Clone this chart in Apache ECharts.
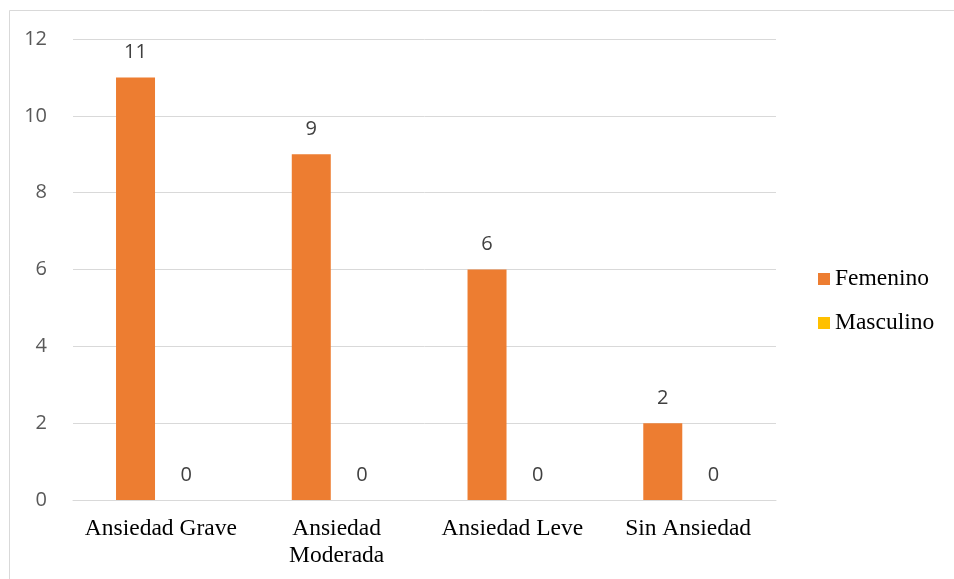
<!DOCTYPE html>
<html>
<head>
<meta charset="utf-8">
<script src="https://cdn.jsdelivr.net/npm/echarts@6/dist/echarts.min.js"></script>
<style>
  html, body { margin: 0; padding: 0; background: #fff; }
  #chart { width: 954px; height: 579px; }
</style>
</head>
<body>
<div id="chart"></div>
<script>
// Niveles de ansiedad por sexo
const categories = ['Ansiedad Grave', 'Ansiedad\nModerada', 'Ansiedad Leve', 'Sin Ansiedad'];
const femenino = [11, 9, 6, 2];
const masculino = [0, 0, 0, 0];
const yTicks = { min: 0, max: 12, interval: 2 };

const chart = echarts.init(document.getElementById('chart'));

const labelStyle = {
  show: true,
  position: 'top',
  distance: 15,
  color: '#404040',
  fontFamily: 'Open Sans, Liberation Sans, sans-serif',
  fontSize: 20
};

chart.setOption({
  animation: false,
  backgroundColor: '#fff',
  graphic: [{
    type: 'rect',
    shape: { x: 9.5, y: 10.5, width: 960, height: 600 },
    style: { fill: 'none', stroke: '#D9D9D9', lineWidth: 1 },
    silent: true
  }],
  grid: { left: 73, right: 178, top: 39, bottom: 79 },
  legend: {
    orient: 'vertical',
    left: 813,
    top: 262,
    itemWidth: 12,
    itemHeight: 12,
    itemGap: 20,
    icon: 'rect',
    textStyle: {
      fontFamily: 'Liberation Serif, Times New Roman, serif',
      fontSize: 23.5,
      color: '#000'
    },
    data: ['Femenino', 'Masculino']
  },
  xAxis: {
    type: 'category',
    data: categories,
    axisLine: { lineStyle: { color: '#D9D9D9', width: 1 } },
    axisTick: { show: false },
    axisLabel: {
      interval: 0,
      margin: 15,
      lineHeight: 27,
      fontFamily: 'Liberation Serif, Times New Roman, serif',
      fontSize: 23.5,
      color: '#000'
    }
  },
  yAxis: {
    type: 'value',
    min: yTicks.min,
    max: yTicks.max,
    interval: yTicks.interval,
    axisLine: { show: false },
    axisTick: { show: false },
    splitLine: { lineStyle: { color: '#D9D9D9', width: 1 } },
    axisLabel: {
      margin: 26,
      fontFamily: 'Open Sans, Liberation Sans, sans-serif',
      fontSize: 20,
      color: '#595959'
    }
  },
  series: [
    {
      name: 'Femenino',
      type: 'bar',
      data: femenino,
      barWidth: 39,
      barGap: '30%',
      itemStyle: { color: '#ED7D31' },
      label: labelStyle
    },
    {
      name: 'Masculino',
      type: 'bar',
      data: masculino,
      barWidth: 39,
      itemStyle: { color: '#FFC000' },
      label: labelStyle
    }
  ]
});
</script>
</body>
</html>
